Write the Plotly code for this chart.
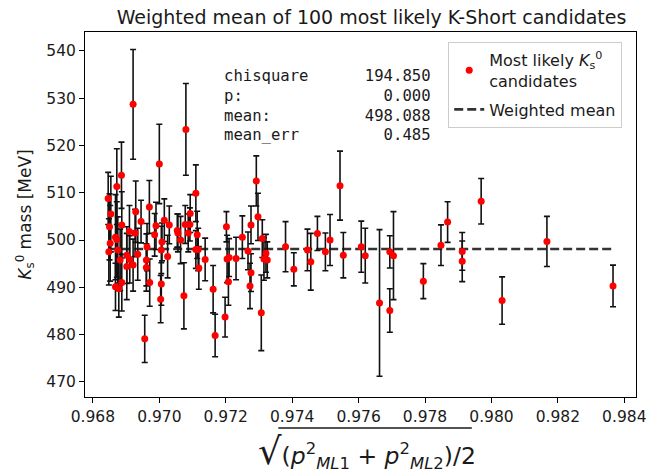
import plotly.graph_objects as go

# Candidate momenta sqrt((p_ML1^2 + p_ML2^2)/2)
p_rms = [
    0.98366, 0.98167, 0.98032, 0.97969, 0.97912, 0.97912, 0.97868, 0.97848,
    0.97795, 0.97705, 0.97694, 0.97694, 0.97663, 0.97620, 0.97608, 0.97554,
    0.97544, 0.97514, 0.97500, 0.97476, 0.97456, 0.97446, 0.97405, 0.97380,
    0.97292, 0.97297, 0.97276, 0.97202, 0.97250, 0.97267, 0.97204, 0.97231,
    0.97210, 0.97276, 0.97273, 0.97321, 0.97315, 0.97325, 0.97310, 0.97307,
    0.97162, 0.97168, 0.97198, 0.97208, 0.97138,
    0.97000, 0.97110, 0.97093, 0.97078, 0.97092, 0.97087, 0.97054, 0.97056,
    0.97064, 0.97030, 0.97015, 0.97008, 0.97006, 0.96986, 0.96970, 0.97114,
    0.97117, 0.97110, 0.97119, 0.97074, 0.97006, 0.97004, 0.96971, 0.97080,
    0.96921,
    0.96886, 0.96872, 0.96846, 0.96854, 0.96850, 0.96887, 0.96868, 0.96872,
    0.96929, 0.96945, 0.96910, 0.96927, 0.96963, 0.96902, 0.96911, 0.96902,
    0.96921, 0.96882, 0.96961, 0.96961, 0.96887, 0.96868, 0.96878, 0.96956,
    0.96875, 0.96848, 0.96852, 0.96935, 0.96990, 0.97025,
]

# Reconstructed K-Short mass per candidate [MeV]
mass = [
    490.3, 499.7, 487.2, 508.2, 497.6, 495.5, 503.8, 498.9,
    491.3, 496.7, 497.5, 485.1, 486.7, 496.7, 498.6, 496.8,
    511.5, 500.0, 497.5, 501.4, 495.4, 497.9, 493.8, 498.6,
    512.5, 504.9, 503.2, 502.8, 500.6, 497.7, 496.0, 496.1,
    496.3, 493.1, 490.3, 497.2, 496.0, 495.8, 500.3, 484.6,
    489.6, 479.8, 483.7, 491.2, 495.9,
    516.1, 509.9, 505.6, 503.3, 503.3, 501.5, 502.0, 501.5,
    500.0, 503.2, 504.2, 499.6, 497.9, 501.1, 507.0, 501.1,
    498.0, 498.0, 494.1, 488.2, 490.7, 487.5, 491.0, 523.4,
    528.7,
    513.7, 511.3, 508.8, 505.5, 502.8, 503.2, 500.6, 500.1,
    506.0, 503.9, 501.8, 501.5, 498.5, 496.8, 495.9, 494.4,
    494.7, 495.8, 495.8, 494.2, 491.0, 490.1, 489.7, 479.1,
    497.9, 497.5, 499.3, 497.0, 503.0, 496.5,
]

# Uncertainty on each mass [MeV]
mass_err = [
    4.4, 5.3, 5.0, 4.8, 4.0, 4.3, 4.3, 4.3,
    3.7, 9.3, 3.4, 4.6, 15.5, 5.8, 5.4, 4.8,
    7.3, 5.4, 4.0, 3.6, 6.0, 4.4, 3.5, 5.3,
    5.3, 5.0, 4.0, 3.2, 4.5, 4.0, 5.0, 4.5,
    4.0, 4.0, 4.8, 4.0, 4.5, 3.8, 4.0, 8.0,
    5.0, 4.5, 4.2, 5.0, 4.5,
    8.4, 6.0, 4.0, 4.0, 3.5, 4.0, 3.5, 4.0,
    5.0, 4.0, 4.5, 4.0, 5.0, 4.5, 5.6, 5.0,
    4.5, 4.0, 4.5, 7.0, 4.5, 5.0, 5.0, 9.7,
    11.6,
    7.0, 8.0, 5.5, 8.0, 7.0, 7.0, 9.0, 8.0,
    6.5, 4.5, 5.5, 5.0, 5.0, 6.0, 5.0, 7.0,
    5.5, 6.5, 5.5, 5.0, 6.0, 5.0, 6.0, 5.0,
    7.0, 7.0, 8.0, 5.5, 5.0, 4.5,
]

# Fit summary
stat_names = ["chisquare", "p:", "mean:", "mean_err"]
stat_values = [194.850, 0.000, 498.088, 0.485]
weighted_mean = stat_values[2]

x_ticks = [0.968, 0.970, 0.972, 0.974, 0.976, 0.978, 0.980, 0.982, 0.984]
y_ticks = [470, 480, 490, 500, 510, 520, 530, 540]

TXT = "#1a1a1a"
FONT = "DejaVu Sans"

fig = go.Figure()

# Weighted mean across the full momentum span
fig.add_trace(go.Scatter(
    x=[min(p_rms), max(p_rms)], y=[weighted_mean, weighted_mean],
    mode="lines", name="Weighted mean", legendrank=2, legendgroup="mean",
    line=dict(color="#333333", width=2.6, dash="9px,4px"),
))

# Candidates with error bars
fig.add_trace(go.Scatter(
    x=p_rms, y=mass, mode="markers", legendrank=1, legendgroup="cands",
    name="Most likely <i>K</i><sub>s</sub><sup>0</sup><br>candidates",
    marker=dict(color="#ff0000", size=7, line=dict(width=0)),
    error_y=dict(type="data", array=mass_err, visible=True,
                 color="#111111", thickness=1.6, width=3),
))

# Fit-statistics block in monospace, one row per annotation
for i, (n, v) in enumerate(zip(stat_names, stat_values)):
    row = f"{n:<12}{v:>10.3f}".replace(" ", "&nbsp;")
    fig.add_annotation(
        x=0.249, y=0.879 - i * 0.054, xref="paper", yref="paper",
        xanchor="left", yanchor="middle", align="left", showarrow=False,
        text=row, font=dict(family="DejaVu Sans Mono", size=15.6, color=TXT),
    )

# x-axis label: sqrt((p_ML1^2 + p_ML2^2)/2)
fig.add_annotation(
    x=0.512, y=-0.150, xref="paper", yref="paper",
    xanchor="center", yanchor="middle", showarrow=False,
    text=("<span style='font-size:37px'>√</span>(<i>p</i><sup>2</sup><sub><i>ML</i>1</sub>"
          " + <i>p</i><sup>2</sup><sub><i>ML</i>2</sub>)/2"),
    font=dict(family=FONT, size=23.5, color=TXT),
)
# vinculum over the radicand, drawn as a headless arrow
fig.add_annotation(
    x=0.702, y=-0.085, xref="paper", yref="paper",
    ax=-195, ay=0, text=" ", font=dict(size=1),
    showarrow=True, arrowhead=0, arrowwidth=1.5, arrowcolor=TXT,
    standoff=0, startstandoff=0,
)

fig.update_layout(
    width=646, height=473,
    margin=dict(l=85, r=10, t=32, b=76, autoexpand=False),
    paper_bgcolor="white", plot_bgcolor="white",
    font=dict(family=FONT, size=16, color=TXT),
    title=dict(text="Weighted mean of 100 most likely K-Short candidates",
               x=0.52, xref="paper", y=0.964, yref="container",
               xanchor="center", yanchor="middle",
               font=dict(family=FONT, size=19, color=TXT)),
    showlegend=True,
    legend=dict(x=0.975, y=0.973, xanchor="right", yanchor="top",
                bgcolor="rgba(255,255,255,0.85)", bordercolor="#cccccc",
                borderwidth=1, font=dict(family=FONT, size=16, color=TXT),
                itemwidth=30, traceorder="grouped", tracegroupgap=5,
                valign="middle"),
    xaxis=dict(range=[0.967762, 0.984352], tickvals=x_ticks,
               ticktext=[f"{t:.3f}" for t in x_ticks],
               ticklabeloverflow="allow", automargin=False,
               showgrid=False, zeroline=False, showline=True, mirror=True,
               linecolor="black", linewidth=1, ticks="outside", ticklen=5,
               tickcolor="black", tickfont=dict(size=15.5)),
    yaxis=dict(range=[466.8, 544.0], tickvals=y_ticks, automargin=False,
               showgrid=False, zeroline=False, showline=True, mirror=True,
               linecolor="black", linewidth=1, ticks="outside", ticklen=5,
               tickcolor="black", tickfont=dict(size=15.5),
               title=dict(text="<i>K</i><sub>s</sub><sup>0</sup> mass [MeV]",
                          font=dict(size=17), standoff=10)),
)

fig.write_html("out.html")
